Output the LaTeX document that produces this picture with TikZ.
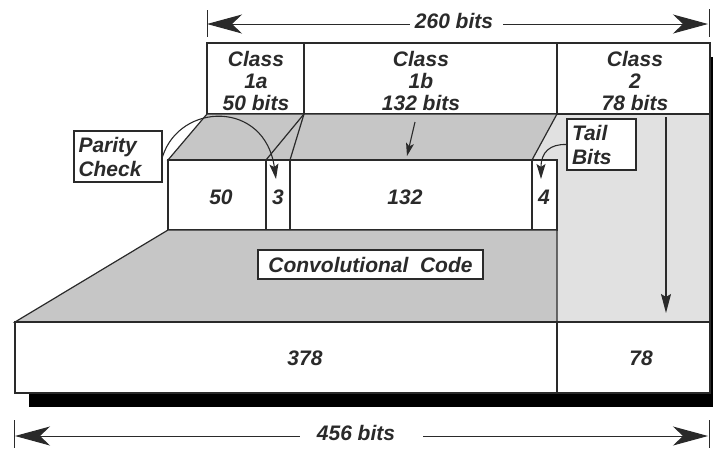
\documentclass[tikz,border=0pt]{standalone}
\usepackage{fontspec}
\setmainfont{Liberation Sans}
\usetikzlibrary{arrows.meta}
\definecolor{darkg}{HTML}{C6C6C6}
\definecolor{lightg}{HTML}{E1E1E1}
\definecolor{ink}{HTML}{2A2A2A}
\begin{document}
\begin{tikzpicture}[x=1pt,y=-1pt,
  ln/.style={draw=ink, line width=1.2pt, line join=miter},
  lbl/.style={font=\fontsize{21}{22}\selectfont\bfseries\itshape, align=center, inner sep=0pt, text=ink},
  tagbox/.style={ln, fill=white, font=\fontsize{21}{24}\selectfont\bfseries\itshape, align=left, inner sep=0pt, text=ink},
  bigarrow/.style={draw=ink, line width=1pt, -{Stealth[length=35pt,width=19pt,inset=10pt]}},
  smallarrow/.style={draw=ink, line width=1.1pt, -{Stealth[length=15pt,width=9pt,inset=3pt]}},
  tick/.style={draw=ink, line width=1pt}
]
\useasboundingbox (0,0) rectangle (713,448);
% shadows
\fill[black] (29,336) rectangle (724,407);
\fill[black] (571,57) rectangle (724,407);
% class 2 column
\fill[lightg] (530,114) rectangle (710,322);
\draw[ln] (710,114) -- (710,322);
% top class boxes
\draw[ln, fill=white] (207,43) rectangle (304,114);
\draw[ln, fill=white] (304,43) rectangle (557,114);
\draw[ln, fill=white] (557,43) rectangle (710,114);
\node[lbl] (c1a) at (256,81) {Class\\1a\\50 bits};
\node[lbl] (c1b) at (421,81) {Class\\1b\\132 bits};
\node[lbl] (c2) at (635,81) {Class\\2\\78 bits};
% upper trapezoid
\draw[ln, fill=darkg] (207,114) -- (557,114) -- (532,160) -- (168,160) -- cycle;
\draw[ln] (304,114) -- (290,160);
\draw[ln] (304,114) -- (266,160);
% middle cells
\draw[ln, fill=white] (168,160) rectangle (266,230);
\draw[ln, fill=white] (266,160) rectangle (290,230);
\draw[ln, fill=white] (290,160) rectangle (532,230);
\draw[ln, fill=white] (532,160) rectangle (557,230);
\node[lbl] (n50) at (221,197) {50};
\node[lbl] (n3) at (278,197) {3};
\node[lbl] (n132) at (405,197) {132};
\node[lbl] (n4) at (544,197) {4};
% lower trapezoid
\draw[ln, fill=darkg] (168,230) -- (557,230) -- (557,322) -- (15,322) -- cycle;
\node[tagbox, minimum width=225pt, minimum height=29pt, align=center] (cc) at (370.5,264.5) {Convolutional\ \ Code};
% bottom row
\draw[ln, fill=white] (15,322) rectangle (557,393);
\draw[ln, fill=white] (557,322) rectangle (710,393);
\node[lbl] (n378) at (305,358) {378};
\node[lbl] (n78) at (641,358) {78};
% labels with arrows
\node[tagbox, minimum width=88pt, minimum height=51pt, text width=79pt] (pc) at (118,156.5) {Parity\\Check};
\node[tagbox, minimum width=69pt, minimum height=51pt, text width=59pt] (tb) at (601.5,144.5) {Tail\\Bits};
\coordinate (p3) at (276,179);
\coordinate (p4) at (541,179);
\draw[smallarrow] (pc.east) .. controls (180,102) and (265,100) .. (p3);
\draw[smallarrow] (tb.west) .. controls (550,144) and (541,152) .. (p4);
\coordinate (b1s) at (415,122);
\coordinate (b1e) at (407,156);
\draw[smallarrow, -{Stealth[length=13pt,width=8pt,inset=3pt]}] (b1s) -- (b1e);
\coordinate (c2s) at (666,117);
\coordinate (c2e) at (666,313);
\draw[smallarrow, -{Stealth[length=19pt,width=10pt,inset=3pt]}] (c2s) -- (c2e);
% dimension 260 bits
\coordinate (tl) at (207,24);
\coordinate (tr) at (708,24);
\draw[tick] (207,10) -- (207,37);
\draw[tick] (709,9) -- (709,37);
\node[lbl] (d260) at (454,21) {260 bits};
\draw[bigarrow] ([xshift=-5pt]d260.west |- tl) -- (tl);
\draw[bigarrow] ([xshift=10pt]d260.east |- tr) -- (tr);
% dimension 456 bits
\coordinate (bl) at (15,436);
\coordinate (br) at (708,436);
\draw[tick] (14,420) -- (14,448);
\draw[tick] (709,420) -- (709,448);
\node[lbl] (d456) at (356,433) {456 bits};
\draw[bigarrow] ([xshift=-17pt]d456.west |- bl) -- (bl);
\draw[bigarrow] ([xshift=28pt]d456.east |- br) -- (br);
\end{tikzpicture}
\end{document}
